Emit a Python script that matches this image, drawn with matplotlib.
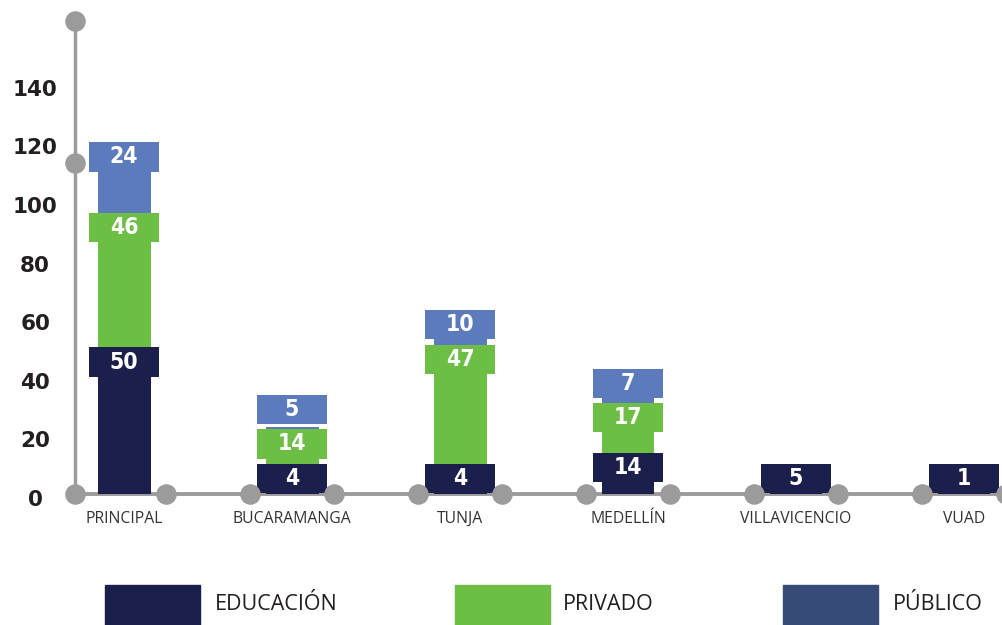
import numpy as np
import matplotlib.pyplot as plt
from matplotlib.patches import Rectangle
from matplotlib.transforms import offset_copy

# Datos por sede
sedes = ["PRINCIPAL", "BUCARAMANGA", "TUNJA", "MEDELLÍN", "VILLAVICENCIO", "VUAD"]
educacion = [50, 4, 4, 14, 5, 1]
privado = [46, 14, 47, 17, 0, 0]
publico = [24, 5, 10, 7, 0, 0]
y_ticks = [0, 20, 40, 60, 80, 100, 120, 140]

c_edu = "#1b1f4b"
c_priv = "#6dbe45"
c_pub = "#5b7bbd"
c_pub_ley = "#364b77"
gris = "#9b9b9b"

fig = plt.figure(figsize=(10.03, 6.25), dpi=100)
ax = fig.add_axes([75 / 1003, 131 / 625, 928 / 1003, 469 / 625])
ax.set_xlim(-0.292, 5.232)
ax.set_ylim(0, 160)
ax.axis("off")

x = np.arange(len(sedes))
ancho_barra = 0.315
ancho_caja = 0.417
alto_caja = 10.0   # alto de la etiqueta en unidades del eje
sep = 1.8

# barras apiladas
series = [(educacion, c_edu), (privado, c_priv), (publico, c_pub)]
base = np.zeros(len(sedes))
for vals, col in series:
    v = np.array(vals, dtype=float)
    ax.bar(x, v, ancho_barra, bottom=base, color=col, zorder=2)
    base = base + v

# etiquetas tipo caja encima de cada tramo
for i in range(len(sedes)):
    acum = 0
    tope_prev = 0
    for vals, col in series:
        val = vals[i]
        if val == 0:
            continue
        acum += val
        tope = max(acum, tope_prev + alto_caja + (sep if tope_prev > 0 else 0.3))
        ax.bar(x[i], alto_caja, ancho_caja, bottom=tope - alto_caja, color=col, zorder=3)
        ax.text(x[i], tope - alto_caja / 2, str(val), ha="center", va="center",
                color="white", fontsize=16.5, fontweight="bold",
                family="DejaVu Sans", fontstretch="condensed", zorder=4)
        tope_prev = tope

# ejes decorativos con puntos
ax.plot([-0.292, -0.292], [0, 161.5], color=gris, lw=2.5, clip_on=False, zorder=1)
ax.plot([-0.292, 5.232], [0, 0], color=gris, lw=2.8, clip_on=False, zorder=1)
puntos_x = [-0.292]
for i in x:
    if i > 0:
        puntos_x.append(i - 0.25)
    puntos_x.append(i + 0.25)
ax.scatter(puntos_x, np.zeros(len(puntos_x)), s=190, color=gris, clip_on=False, zorder=5)
ax.scatter([-0.292, -0.292], [113, 161.5], s=190, color=gris, clip_on=False, zorder=5)

# etiquetas del eje y
tr = offset_copy(ax.get_yaxis_transform(), fig=fig, x=0, y=-6, units="dots")
for t in y_ticks:
    ax.text(-0.043, t, str(t), transform=tr, ha="center", va="center",
            fontsize=15.5, fontweight="bold", color="#231f20", family="DejaVu Sans")

# nombres de sede
tr2 = offset_copy(ax.transData, fig=fig, x=0, y=-25, units="dots")
for i, s in enumerate(sedes):
    ax.text(x[i], 0, s, transform=tr2, ha="center", va="center",
            fontsize=11.3, color="#333333", family="Open Sans")

# leyenda
ley = [("EDUCACIÓN", c_edu, 105, 215), ("PRIVADO", c_priv, 455, 563), ("PÚBLICO", c_pub_ley, 783, 893)]
for nombre, col, x0, xt in ley:
    fig.patches.append(Rectangle((x0 / 1003, 0), 95 / 1003, 40 / 625,
                                 transform=fig.transFigure, color=col))
    fig.text(xt / 1003, 1 - 604 / 625, nombre, ha="left", va="center",
             fontsize=15.5, color="#231f20", family="Open Sans")

fig.savefig("out.png", dpi=100)
